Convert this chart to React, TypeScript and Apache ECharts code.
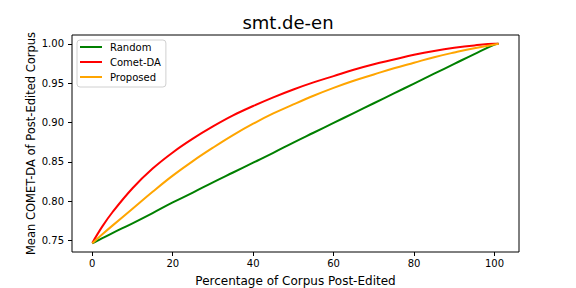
import React, { useEffect, useRef } from "react";
import * as echarts from "echarts";

const xValues = [0, 2.5, 5, 10, 15, 20, 25, 30, 35, 40, 45, 50, 55, 60, 65, 70, 75, 80, 85, 90, 95, 100, 101];
const randomValues = [0.7465, 0.7530, 0.7595, 0.7720, 0.7850, 0.7985, 0.8110, 0.8240, 0.8365, 0.8490, 0.8615, 0.8745, 0.8870, 0.8995, 0.9120, 0.9245, 0.9370, 0.9495, 0.9620, 0.9745, 0.9870, 0.9990, 1.0];
const cometValues = [0.7470, 0.7680, 0.7860, 0.8165, 0.8415, 0.8620, 0.8795, 0.8950, 0.9090, 0.9210, 0.9320, 0.9420, 0.9510, 0.9590, 0.9670, 0.9740, 0.9800, 0.9860, 0.9910, 0.9950, 0.9980, 1.0, 1.0];
const proposedValues = [0.7465, 0.7580, 0.7690, 0.7905, 0.8120, 0.8325, 0.8510, 0.8680, 0.8840, 0.8985, 0.9115, 0.9230, 0.9340, 0.9440, 0.9530, 0.9610, 0.9690, 0.9760, 0.9830, 0.9890, 0.9945, 0.9990, 1.0];
const xTicks = [0, 20, 40, 60, 80, 100];
const yTicks = [0.75, 0.8, 0.85, 0.9, 0.95, 1.0];
const seriesNames = ["Random", "Comet-DA", "Proposed"];
const seriesColors = ["#008000", "#ff0000", "#ffa500"];

export default function App() {
  const ref = useRef<HTMLDivElement>(null);
  useEffect(() => {
    document.body.style.margin = "0";
    if (!ref.current) return;
    const chart = echarts.init(ref.current, undefined, { renderer: "svg" });
    const all = [randomValues, cometValues, proposedValues];
    const font = "DejaVu Sans";
    chart.setOption({
      animation: false,
      backgroundColor: "#fff",
      title: {
        text: "smt.de-en",
        left: "center",
        top: 13,
        padding: 0,
        textStyle: { fontFamily: font, fontSize: 18, fontWeight: "normal", color: "#000" },
      },
      grid: {
        left: 72,
        right: 57,
        top: 35,
        bottom: 36,
        outerBoundsMode: "none",
        containLabel: false,
        show: true,
        borderColor: "#000",
        borderWidth: 1,
        backgroundColor: "transparent",
      },
      legend: {
        orient: "vertical",
        left: 77,
        top: 40,
        data: seriesNames,
        icon: "rect",
        itemWidth: 22,
        itemHeight: 2,
        itemGap: 3,
        backgroundColor: "#fff",
        borderColor: "#d0d0d0",
        borderWidth: 1,
        borderRadius: 3,
        padding: [1, 5, 4, 3],
        textStyle: { fontFamily: font, fontSize: 10, lineHeight: 12, color: "#000", padding: [0, 0, 0, 3] },
      },
      xAxis: {
        type: "value",
        min: -5.05,
        max: 106.1,
        name: "Percentage of Corpus Post-Edited",
        nameLocation: "middle",
        nameGap: 23,
        nameTextStyle: { fontFamily: font, fontSize: 12, color: "#000" },
        axisLine: { show: false, onZero: false },
        splitLine: { show: false },
        axisTick: { show: true, inside: false, length: 4, customValues: xTicks, lineStyle: { color: "#000" } },
        axisLabel: { customValues: xTicks, fontFamily: font, fontSize: 10, color: "#000", margin: 6 },
      },
      yAxis: {
        type: "value",
        min: 0.7355,
        max: 1.0112,
        name: "Mean COMET-DA of Post-Edited Corpus",
        nameLocation: "middle",
        nameGap: 35,
        nameMoveOverlap: false,
        nameTextStyle: { fontFamily: font, fontSize: 11.5, color: "#000" },
        axisLine: { show: false, onZero: false },
        splitLine: { show: false },
        axisTick: { show: true, inside: false, length: 4, customValues: yTicks, lineStyle: { color: "#000" } },
        axisLabel: {
          customValues: yTicks,
          fontFamily: font,
          fontSize: 10,
          color: "#000",
          margin: 8,
          formatter: (v: number) => v.toFixed(2),
        },
      },
      series: seriesNames.map((name, i) => ({
        name,
        type: "line",
        data: xValues.map((x, j) => [x, all[i][j]]),
        smooth: 0.4,
        showSymbol: false,
        symbol: "none",
        lineStyle: { color: seriesColors[i], width: 2 },
        itemStyle: { color: seriesColors[i] },
        z: 2 + i,
      })),
    });
    return () => chart.dispose();
  }, []);
  return <div ref={ref} style={{ width: 576, height: 288 }} />;
}
